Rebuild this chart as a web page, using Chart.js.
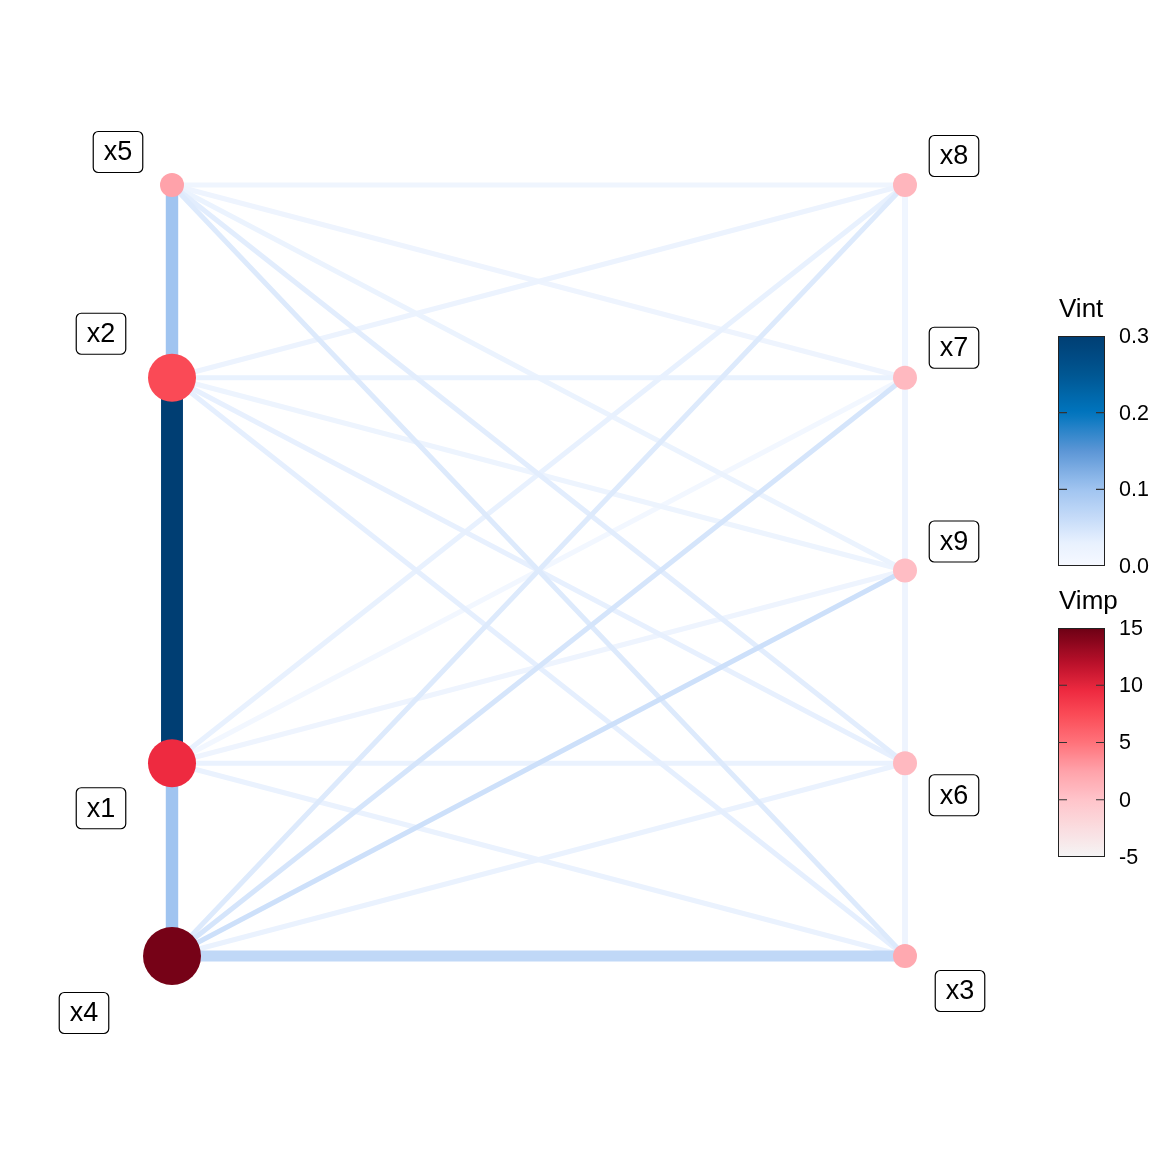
<!DOCTYPE html>
<html>
<head>
<meta charset="utf-8">
<script src="https://cdn.jsdelivr.net/npm/chart.js@4/dist/chart.umd.min.js"></script>
<style>
html,body{margin:0;padding:0;background:#fff;}
#wrap{width:1152px;height:1152px;position:relative;}
</style>
</head>
<body>
<div id="wrap"><canvas id="c" width="1152" height="1152"></canvas></div>
<script>
// ---- data ----
const nodeNames = ['x1','x2','x3','x4','x5','x6','x7','x8','x9'];
const nodeLayoutX = [0, 0, 1, 0, 0, 1, 1, 1, 1];
const nodeLayoutY = [1, 3, 0, 0, 4, 1, 3, 4, 2];
const nodeVimp = [9.5, 7.5, 2.0, 14.6, 2.5, 0.8, 0.8, 1.0, 0.5];

const edgeFrom = ['x2','x5','x1','x5','x5','x2',
  'x8','x7','x9','x6','x8','x8','x8','x7','x7','x9',
  'x5','x5','x5','x5','x5',
  'x2','x2','x2','x2','x2',
  'x1','x1','x1','x1','x1',
  'x4','x4','x4','x4','x4'];
const edgeTo = ['x1','x2','x4','x1','x4','x4',
  'x7','x9','x6','x3','x9','x6','x3','x6','x3','x3',
  'x8','x7','x9','x6','x3',
  'x8','x7','x9','x6','x3',
  'x8','x7','x9','x6','x3',
  'x8','x7','x9','x6','x3'];
const edgeVint = [0.30, 0.10, 0.10, 0.03, 0.025, 0.04,
  0.012, 0.018, 0.018, 0.018, 0.01, 0.01, 0.01, 0.01, 0.01, 0.01,
  0.016, 0.018, 0.024, 0.036, 0.040,
  0.022, 0.027, 0.020, 0.031, 0.033,
  0.030, 0.008, 0.018, 0.026, 0.026,
  0.040, 0.048, 0.055, 0.025, 0.068];

const vintTicks = [0.0, 0.1, 0.2, 0.3];
const vimpTicks = [-5, 0, 5, 10, 15];

// ---- colour scales ----
const vintStops = [[0,[246,249,255]],[0.03,[232,241,254]],[0.06,[200,221,249]],[0.1,[160,196,240]],
  [0.15,[92,150,214]],[0.2,[0,117,190]],[0.25,[0,86,146]],[0.3,[0,62,115]]];
const vimpStops = [[-5,[245,245,245]],[0,[255,196,202]],[2.5,[255,162,170]],[5,[255,114,122]],
  [7.5,[250,74,86]],[9.5,[238,42,64]],[12,[184,16,42]],[15,[108,0,20]]];
function interp(stops, v){
  if(v<=stops[0][0]) return stops[0][1];
  for(let i=1;i<stops.length;i++){
    if(v<=stops[i][0]){
      const a=stops[i-1], b=stops[i], t=(v-a[0])/(b[0]-a[0]);
      return a[1].map((c,k)=>Math.round(c+(b[1][k]-c)*t));
    }
  }
  return stops[stops.length-1][1];
}
const rgb = c => `rgb(${c[0]},${c[1]},${c[2]})`;
const edgeWidth = v => v < 0.06 ? 5 : 11 + (v-0.07)*47.5;
const nodeRadius = v => v < 5 ? 12 : (v < 12 ? 24 : 29);

// ---- datasets ----
const idx = n => nodeNames.indexOf(n);
const edgeSets = edgeFrom.map((f,i)=>({f, t:edgeTo[i], v:edgeVint[i]}))
  .sort((a,b)=>b.v-a.v)
  .map(e=>({
    type:'line',
    data:[{x:nodeLayoutX[idx(e.f)], y:nodeLayoutY[idx(e.f)]},{x:nodeLayoutX[idx(e.t)], y:nodeLayoutY[idx(e.t)]}],
    borderColor: rgb(interp(vintStops,e.v)),
    borderWidth: edgeWidth(e.v),
    borderCapStyle:'butt',
    pointRadius:0, showLine:true, fill:false, clip:false
  }));
const nodeSet = {
  type:'scatter',
  data: nodeNames.map((n,i)=>({x:nodeLayoutX[i], y:nodeLayoutY[i]})),
  pointRadius: nodeVimp.map(nodeRadius),
  pointHoverRadius: nodeVimp.map(nodeRadius),
  backgroundColor: nodeVimp.map(v=>rgb(interp(vimpStops,v))),
  borderWidth:0, clip:false
};

// label offsets in pixels (repelled label positions)
const labelOffset = {
  x1:[-71,45], x2:[-71,-44], x3:[55,35], x4:[-88,57], x5:[-54,-33],
  x6:[49,32], x7:[49,-30], x8:[49,-29], x9:[49,-29]
};
const FONT = '"Liberation Sans", Arial, Helvetica, sans-serif';

const labelPlugin = {
  id:'labels',
  afterDatasetsDraw(chart){
    const ctx=chart.ctx, xs=chart.scales.x, ys=chart.scales.y;
    ctx.save();
    ctx.font = '27px '+FONT;
    nodeNames.forEach((n,i)=>{
      const px = xs.getPixelForValue(nodeLayoutX[i]) + labelOffset[n][0];
      const py = ys.getPixelForValue(nodeLayoutY[i]) + labelOffset[n][1];
      const w = ctx.measureText(n).width + 21, h = 41;
      ctx.beginPath();
      ctx.roundRect(px-w/2, py-h/2, w, h, 5);
      ctx.fillStyle='#fff'; ctx.fill();
      ctx.lineWidth=1.2; ctx.strokeStyle='#000'; ctx.stroke();
      ctx.fillStyle='#000'; ctx.textAlign='center'; ctx.textBaseline='middle';
      ctx.fillText(n, px, py+1);
    });
    ctx.restore();
  }
};

function drawBar(ctx, title, titleY, top, bottom, lo, hi, stops, ticks, fmt){
  const left=1058, right=1105;
  ctx.fillStyle='#000'; ctx.font='26px '+FONT; ctx.textAlign='left'; ctx.textBaseline='alphabetic';
  ctx.fillText(title, 1059, titleY);
  const g = ctx.createLinearGradient(0,bottom,0,top);
  for(let k=0;k<=40;k++){
    const v = lo + (hi-lo)*k/40;
    g.addColorStop(k/40, rgb(interp(stops,v)));
  }
  ctx.fillStyle=g; ctx.fillRect(left,top,right-left,bottom-top);
  ctx.strokeStyle='#222'; ctx.lineWidth=1; ctx.strokeRect(left+0.5,top+0.5,right-left-1,bottom-top-1);
  ctx.font='21.5px '+FONT; ctx.textBaseline='middle';
  ticks.forEach(t=>{
    const y = bottom - (t-lo)/(hi-lo)*(bottom-top);
    if(t>lo && t<hi){
      ctx.strokeStyle='#333'; ctx.lineWidth=1.2;
      ctx.beginPath(); ctx.moveTo(left,y); ctx.lineTo(left+9,y); ctx.moveTo(right-9,y); ctx.lineTo(right,y); ctx.stroke();
    }
    ctx.fillStyle='#000';
    ctx.fillText(fmt(t), 1119, y+1);
  });
}
const legendPlugin = {
  id:'legends',
  afterDraw(chart){
    const ctx=chart.ctx; ctx.save();
    drawBar(ctx,'Vint',317,336,566,0,0.3,vintStops,vintTicks,t=>t.toFixed(1));
    drawBar(ctx,'Vimp',609,628,857,-5,15,vimpStops,vimpTicks,t=>String(t));
    ctx.restore();
  }
};

new Chart(document.getElementById('c'),{
  type:'scatter',
  data:{datasets:[nodeSet, ...edgeSets]},
  options:{
    responsive:false, devicePixelRatio:1, animation:false, events:[],
    layout:{padding:{left:62.05, right:173.7, top:107.9, bottom:80.35}},
    scales:{
      x:{type:'linear', min:-0.15, max:1.1, display:false},
      y:{type:'linear', min:-0.6, max:4.4, display:false}
    },
    plugins:{legend:{display:false}, tooltip:{enabled:false}}
  },
  plugins:[labelPlugin, legendPlugin]
});
</script>
</body>
</html>
